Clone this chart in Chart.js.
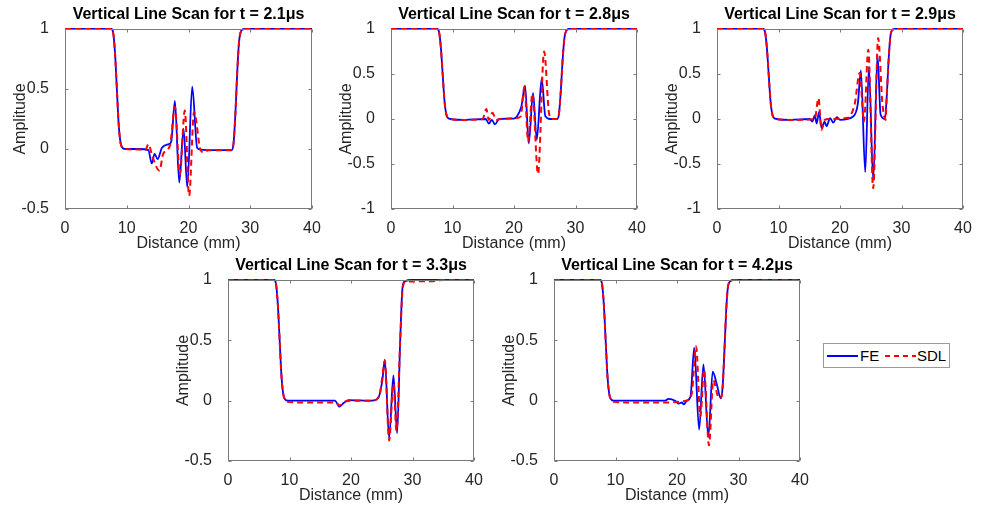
<!DOCTYPE html>
<html lang="en">
<head>
    <meta charset="UTF-8">
    <title>Vertical Line Scans</title>
    <script src="https://cdn.jsdelivr.net/npm/chart.js"></script>
    <style>
        body {
            margin: 0;
            width: 981px;
            height: 508px;
            background: #fff;
            overflow: hidden;
            position: relative;
            font-family: "Liberation Sans", Arial, sans-serif;
        }
        canvas { position: absolute; }
        #legend {
            position: absolute;
            left: 823px;
            top: 343px;
            width: 127px;
            height: 25px;
            box-sizing: border-box;
            border: 1px solid #9a9a9a;
            background: #fff;
            font-size: 15px;
            color: #000;
        }
        #legend span { position: absolute; }
        .fe-line { left: 3px; top: 11px; width: 31px; height: 2px; background: #0000ff; }
        .sdl-line { left: 61px; top: 11px; width: 31px; height: 2px;
            background: repeating-linear-gradient(to right, #ff0000 0 5px, transparent 5px 9px); }
        .lab-fe { left: 36px; top: 3px; }
        .lab-sdl { left: 93px; top: 3px; }
    </style>
</head>
<body>
    <canvas id="c1" width="327" height="257"></canvas>
    <canvas id="c2" width="327" height="257"></canvas>
    <canvas id="c3" width="327" height="257"></canvas>
    <canvas id="c4" width="327" height="258"></canvas>
    <canvas id="c5" width="327" height="258"></canvas>
    <div id="legend">
        <span class="fe-line"></span><span class="lab-fe">FE</span>
        <span class="sdl-line"></span><span class="lab-sdl">SDL</span>
    </div>

    <script>
        // distance in mm, amplitude
        const fe21X = [0, 7.5, 7.8, 8.1, 8.4, 8.7, 9.0, 9.3, 9.7, 12, 13.5, 14.05, 14.5, 15.0, 15.7, 16.8, 17.2, 17.8, 18.5, 19.2, 19.8, 20.6, 21.4, 21.9, 24, 27.0, 27.3, 27.6, 27.9, 28.2, 28.6, 29, 40];
        const fe21Y = [1, 1, 0.97, 0.8, 0.5, 0.2, 0.05, 0.01, 0, 0, -0.01, -0.12, -0.04, -0.085, 0.01, 0.04, 0.06, 0.40, -0.28, 0.17, -0.32, 0.52, 0.01, -0.005, -0.01, -0.01, 0.05, 0.3, 0.65, 0.9, 0.99, 1, 1];
        const sdl21X = [0, 7.5, 7.8, 8.1, 8.4, 8.7, 9.0, 9.3, 9.7, 12, 13.0, 13.5, 14.2, 15.3, 15.9, 17.0, 17.8, 18.6, 19.4, 20.1, 20.9, 21.9, 22.5, 23.2, 27.0, 27.3, 27.6, 27.9, 28.2, 28.6, 29, 40];
        const sdl21Y = [1, 1, 0.97, 0.8, 0.5, 0.2, 0.05, 0.01, 0, -0.005, -0.01, 0.04, -0.07, -0.18, -0.04, 0.03, 0.35, -0.21, 0.32, -0.39, 0.31, 0, -0.03, -0.01, -0.01, 0.05, 0.3, 0.65, 0.9, 0.99, 1, 1];

        const fe28X = [0, 7.5, 7.8, 8.1, 8.4, 8.7, 9.0, 9.3, 9.7, 12, 15.4, 15.9, 16.4, 16.9, 17.6, 20.0, 20.5, 21.2, 21.8, 22.4, 23.1, 23.7, 24.5, 25.1, 25.9, 27.0, 27.3, 27.6, 27.9, 28.2, 28.6, 29, 40];
        const fe28Y = [1, 1, 0.97, 0.8, 0.5, 0.2, 0.05, 0.01, 0, -0.01, 0, -0.05, -0.01, -0.06, 0, 0.005, 0.03, 0.14, 0.37, -0.27, 0.29, -0.23, 0.45, 0.03, 0, 0, 0.05, 0.3, 0.65, 0.9, 0.99, 1, 1];
        const sdl28X = [0, 7.5, 7.8, 8.1, 8.4, 8.7, 9.0, 9.3, 9.7, 12, 14.9, 15.5, 15.9, 16.5, 17.1, 17.8, 20.5, 21.1, 21.7, 22.3, 23.0, 23.9, 24.9, 25.7, 26.2, 27.0, 27.3, 27.6, 27.9, 28.2, 28.6, 29, 40];
        const sdl28Y = [1, 1, 0.97, 0.8, 0.5, 0.2, 0.05, 0.01, 0, -0.01, 0, 0.11, -0.01, 0.07, -0.01, 0, 0.01, 0.03, 0.36, -0.25, 0.28, -0.61, 0.75, 0.06, 0, 0, 0.05, 0.3, 0.65, 0.9, 0.99, 1, 1];

        const fe29X = [0, 7.5, 7.8, 8.1, 8.4, 8.7, 9.0, 9.3, 9.7, 12, 15.1, 15.5, 15.9, 16.2, 16.6, 17.0, 17.5, 17.8, 18.4, 18.9, 19.5, 20.0, 22.2, 22.9, 23.4, 24.1, 24.7, 25.4, 26.1, 26.6, 27.3, 27.6, 27.9, 28.2, 28.5, 29, 40];
        const fe29Y = [1, 1, 0.97, 0.8, 0.5, 0.2, 0.05, 0.01, 0, -0.01, 0, -0.03, 0.04, -0.05, 0.08, -0.1, -0.03, -0.08, 0.01, -0.04, 0.02, -0.01, 0.03, 0.17, 0.54, -0.59, 0.58, -0.68, 0.71, 0.05, 0, 0.25, 0.65, 0.92, 0.99, 1, 1];
        const sdl29X = [0, 7.5, 7.8, 8.1, 8.4, 8.7, 9.0, 9.3, 9.7, 12, 15.9, 16.5, 17.0, 17.5, 18.2, 21.0, 21.6, 22.4, 23.2, 23.9, 24.6, 25.4, 26.2, 26.9, 27.4, 27.6, 27.9, 28.2, 28.5, 29, 40];
        const sdl29Y = [1, 1, 0.97, 0.8, 0.5, 0.2, 0.05, 0.01, 0, -0.01, 0, 0.23, -0.12, -0.01, 0, 0.01, 0.03, 0.17, 0.51, -0.03, 0.77, -0.77, 0.9, 0.17, -0.01, 0.25, 0.65, 0.92, 0.99, 1, 1];

        const fe33X = [0, 7.5, 7.8, 8.1, 8.4, 8.7, 9.0, 9.3, 9.7, 12, 17.4, 18.1, 18.8, 19.6, 23.4, 24.5, 25.1, 25.5, 26.2, 26.9, 27.5, 28.0, 28.4, 28.8, 29.8, 40];
        const fe33Y = [1, 1, 0.97, 0.8, 0.5, 0.2, 0.05, 0.01, 0, 0, 0, -0.05, -0.02, 0.005, 0, 0.03, 0.17, 0.34, -0.31, 0.21, -0.27, 0.5, 0.95, 0.99, 1, 1];
        const sdl33X = [0, 7.5, 7.8, 8.1, 8.4, 8.7, 9.0, 9.3, 9.7, 12, 17.5, 18.2, 18.9, 20, 23.5, 24.6, 25.1, 25.5, 26.2, 26.9, 27.4, 28.0, 28.4, 28.9, 33, 35, 40];
        const sdl33Y = [1, 1, 0.97, 0.8, 0.5, 0.2, 0.05, 0.01, -0.01, -0.015, -0.015, -0.04, -0.01, 0, 0, 0.04, 0.2, 0.33, -0.33, 0.14, -0.25, 0.5, 0.93, 0.985, 0.99, 1, 1];

        const fe42X = [0, 7.5, 7.8, 8.1, 8.4, 8.7, 9.0, 9.3, 9.7, 12, 18.1, 18.6, 19.7, 20.3, 20.8, 21.1, 21.6, 22.2, 22.8, 23.6, 24.3, 25.1, 25.8, 26.5, 27.1, 27.4, 27.7, 28.0, 28.3, 28.7, 29.1, 40];
        const fe42Y = [1, 1, 0.97, 0.8, 0.5, 0.2, 0.05, 0.01, 0, 0, 0, 0.015, 0, -0.025, -0.015, -0.03, 0, 0.035, 0.44, -0.24, 0.3, -0.3, 0.24, 0.13, 0.02, 0.1, 0.4, 0.75, 0.95, 0.99, 1, 1];
        const sdl42X = [0, 7.5, 7.8, 8.1, 8.4, 8.7, 9.0, 9.3, 9.7, 12, 18, 21.5, 22.4, 23.1, 23.8, 24.4, 25.2, 25.9, 26.7, 27.1, 27.4, 27.7, 28.0, 28.3, 28.7, 29.1, 40];
        const sdl42Y = [1, 1, 0.97, 0.8, 0.5, 0.2, 0.05, 0.01, -0.01, -0.015, -0.015, 0, 0.06, 0.45, -0.13, 0.26, -0.37, 0.17, 0.03, 0.02, 0.1, 0.4, 0.75, 0.95, 0.99, 1, 1];

        const xTicks = [0, 10, 20, 30, 40];

        // panel placement: chart area left/top, size, y range
        const panels = [
            { id: 'c1', t: '2.1', fe: [fe21X, fe21Y], sdl: [sdl21X, sdl21Y], yMin: -0.5, left: 65,  top: 29,  w: 247, h: 180 },
            { id: 'c2', t: '2.8', fe: [fe28X, fe28Y], sdl: [sdl28X, sdl28Y], yMin: -1,   left: 391, top: 29,  w: 246, h: 180 },
            { id: 'c3', t: '2.9', fe: [fe29X, fe29Y], sdl: [sdl29X, sdl29Y], yMin: -1,   left: 717, top: 29,  w: 246, h: 180 },
            { id: 'c4', t: '3.3', fe: [fe33X, fe33Y], sdl: [sdl33X, sdl33Y], yMin: -0.5, left: 228, top: 280, w: 246, h: 181 },
            { id: 'c5', t: '4.2', fe: [fe42X, fe42Y], sdl: [sdl42X, sdl42Y], yMin: -0.5, left: 554, top: 280, w: 246, h: 181 }
        ];

        const Y_AXIS_W = 65, TITLE_H = 29, X_AXIS_H = 48, PAD_R = 16;

        Chart.defaults.font.family = '"Liberation Sans", Arial, sans-serif';
        Chart.defaults.color = '#262626';

        function pts(xs, ys) {
            return xs.map((v, i) => ({ x: v, y: ys[i] }));
        }

        // matlab style box with inward ticks
        const boxPlugin = {
            id: 'box',
            afterDatasetsDraw(chart) {
                const { ctx, chartArea: a, scales: { x, y } } = chart;
                ctx.save();
                ctx.strokeStyle = '#7a7a7a';
                ctx.lineWidth = 1;
                const l = Math.round(a.left) + 0.5, r = Math.round(a.right) - 0.5;
                const t = Math.round(a.top) + 0.5, b = Math.round(a.bottom) - 0.5;
                ctx.strokeRect(l, t, r - l, b - t);
                ctx.beginPath();
                x.ticks.forEach(tk => {
                    const px = Math.round(x.getPixelForValue(tk.value)) + 0.5;
                    ctx.moveTo(px, b); ctx.lineTo(px, b - 3);
                    ctx.moveTo(px, t); ctx.lineTo(px, t + 3);
                });
                y.ticks.forEach(tk => {
                    const py = Math.round(y.getPixelForValue(tk.value)) + 0.5;
                    ctx.moveTo(l, py); ctx.lineTo(l + 3, py);
                    ctx.moveTo(r, py); ctx.lineTo(r - 3, py);
                });
                ctx.stroke();
                ctx.restore();
            }
        };

        panels.forEach(p => {
            const cv = document.getElementById(p.id);
            cv.width = p.w + Y_AXIS_W + PAD_R;
            cv.height = p.h + TITLE_H + X_AXIS_H;
            cv.style.left = (p.left - Y_AXIS_W) + 'px';
            cv.style.top = (p.top - TITLE_H) + 'px';

            new Chart(cv.getContext('2d'), {
                type: 'line',
                data: {
                    datasets: [{
                        label: 'FE',
                        data: pts(p.fe[0], p.fe[1]),
                        borderColor: '#0000ff',
                        borderWidth: 1.8,
                        pointRadius: 0,
                        cubicInterpolationMode: 'monotone',
                        clip: 4,
                        order: 2
                    }, {
                        label: 'SDL',
                        data: pts(p.sdl[0], p.sdl[1]),
                        borderColor: '#ff0000',
                        borderWidth: 2,
                        borderDash: [6, 4],
                        pointRadius: 0,
                        cubicInterpolationMode: 'monotone',
                        clip: 4,
                        order: 1
                    }]
                },
                options: {
                    responsive: false,
                    animation: false,
                    layout: { padding: { left: 0, right: PAD_R, top: 0, bottom: 0 } },
                    plugins: {
                        legend: { display: false },
                        tooltip: { enabled: false },
                        title: {
                            display: true,
                            fullSize: false,
                            text: 'Vertical Line Scan for t = ' + p.t + 'μs',
                            color: '#000',
                            font: { size: 16, weight: 'bold', lineHeight: 1.2 },
                            padding: { top: 5.4, bottom: 4.4 }
                        }
                    },
                    scales: {
                        x: {
                            type: 'linear',
                            min: 0,
                            max: 40,
                            afterBuildTicks: s => { s.ticks = xTicks.map(v => ({ value: v })); },
                            afterFit: s => { s.height = X_AXIS_H; },
                            grid: { display: false },
                            border: { display: false },
                            ticks: { font: { size: 16 }, padding: 1.5, maxRotation: 0 },
                            title: { display: true, text: 'Distance (mm)', font: { size: 16 }, padding: { top: 0, bottom: 3.5 } }
                        },
                        y: {
                            min: p.yMin,
                            max: 1,
                            afterFit: s => { s.width = Y_AXIS_W; },
                            grid: { display: false },
                            border: { display: false },
                            ticks: { stepSize: 0.5, font: { size: 16 }, padding: 8, callback: v => String(v) },
                            title: { display: true, text: 'Amplitude', font: { size: 16 }, padding: { top: 11, bottom: 0 } }
                        }
                    }
                },
                plugins: [boxPlugin]
            });
        });
    </script>
</body>
</html>
